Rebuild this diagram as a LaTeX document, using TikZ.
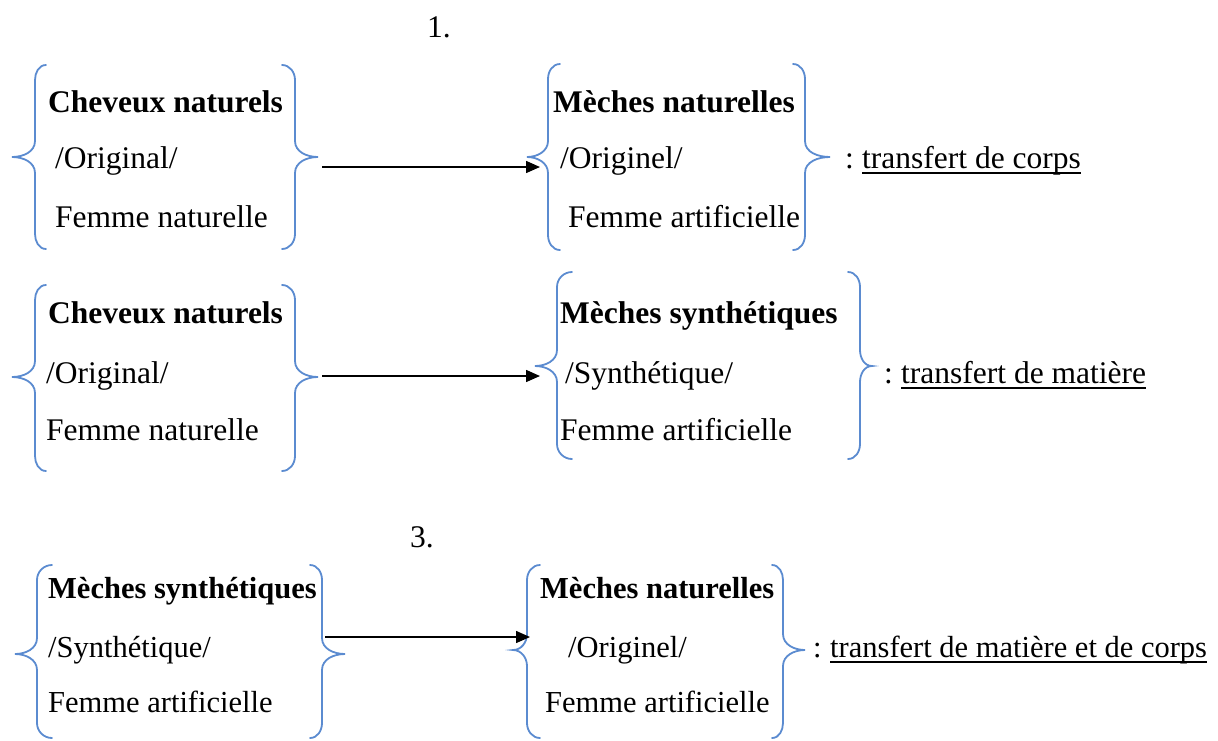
\documentclass[tikz,border=0pt]{standalone}
\usepackage{fontspec}
\setmainfont{Liberation Serif}
\usetikzlibrary{arrows.meta}
\definecolor{bracecol}{RGB}{91,139,208}

% left curly brace: arm x, spine x, tip x, top y, tip y, bottom y
\newcommand{\curlleft}[6]{%
  \draw[bracepath] (#1,#4) to[out=180,in=90] (#2,#4+15) -- (#2,#5-16)
    to[out=-90,in=0] (#3,#5) to[out=0,in=90] (#2,#5+16) -- (#2,#6-15)
    to[out=-90,in=180] (#1,#6);}
% right curly brace: arm x, spine x, tip x, top y, tip y, bottom y
\newcommand{\curlright}[6]{%
  \draw[bracepath] (#1,#4) to[out=0,in=90] (#2,#4+15) -- (#2,#5-16)
    to[out=-90,in=180] (#3,#5) to[out=180,in=90] (#2,#5+16) -- (#2,#6-15)
    to[out=-90,in=0] (#1,#6);}

\begin{document}
\begin{tikzpicture}[x=1pt,y=-1pt,
  bracepath/.style={draw=bracecol,line width=1.8pt,line cap=round},
  txt/.style={inner sep=0pt,anchor=base west,font=\fontsize{31.5}{36}\selectfont},
  head/.style={txt,font=\fontsize{31.5}{36}\selectfont\bfseries},
  txts/.style={inner sep=0pt,anchor=base west,font=\fontsize{30.5}{36}\selectfont},
  heads/.style={txts,font=\fontsize{30.5}{36}\selectfont\bfseries},
  conn/.style={draw=black,line width=1.5pt,-{Triangle[length=14pt,width=12pt]}},
  ul/.style={line width=1.3pt}]
\useasboundingbox (0,0) rectangle (1218,740);

% numbering
\node[txt] (n1) at (427,37) {1.};
\node[txt] (n3) at (410,547) {3.};

% ---------- row 1 ----------
\curlleft{46}{35}{12}{65}{157}{249}
\curlright{282}{295}{318}{65}{157}{249}
\node[head] (a1) at (48,112) {Cheveux naturels};
\node[txt]  (a2) at (55,168) {/Original/};
\node[txt]  (a3) at (55,227) {Femme naturelle};

\curlleft{560}{548}{527}{64}{157}{250}
\curlright{793}{805}{830}{64}{157}{250}
\node[head] (b1) at (553,112) {Mèches naturelles};
\node[txt]  (b2) at (560,168) {/Originel/};
\node[txt]  (b3) at (568,227) {Femme artificielle};

\node[txt] (c0) at (845,168) {:};
\node[txt] (c1) at (862,168) {transfert de corps};
\draw[ul] ([yshift=-5pt]c1.base west) -- ([yshift=-5pt]c1.base east);

\coordinate (s1) at (322,167);
\coordinate (e1) at (540,167);
\draw[conn] (s1) -- (e1);

% ---------- row 2 ----------
\curlleft{46}{35}{12}{285}{377}{471}
\curlright{282}{295}{318}{285}{377}{471}
\node[head] (d1) at (48,323) {Cheveux naturels};
\node[txt]  (d2) at (46,383) {/Original/};
\node[txt]  (d3) at (46,440) {Femme naturelle};

\curlleft{572}{557}{535}{272}{366}{459}
\curlright{848}{860}{872}{272}{366}{459}
\node[head] (f1) at (560,323) {Mèches synthétiques};
\node[txt]  (f2) at (565,383) {/Synthétique/};
\node[txt]  (f3) at (560,440) {Femme artificielle};

\node[txt] (g0) at (884,383) {:};
\node[txt] (g1) at (901,383) {transfert de matière};
\draw[ul] ([yshift=-5pt]g1.base west) -- ([yshift=-5pt]g1.base east);

\coordinate (s2) at (322,376);
\coordinate (e2) at (540,376);
\draw[conn] (s2) -- (e2);

% ---------- row 3 ----------
\curlleft{52}{37}{15}{565}{654}{738}
\curlright{310}{322}{345}{565}{654}{738}
\node[heads] (h1) at (48,598) {Mèches synthétiques};
\node[txts]  (h2) at (48,657) {/Synthétique/};
\node[txts]  (h3) at (48,712) {Femme artificielle};

\curlleft{540}{527}{513}{565}{650}{738}
\curlright{772}{783}{805}{565}{650}{738}
\node[heads] (k1) at (540,598) {Mèches naturelles};
\node[txts]  (k2) at (568,657) {/Originel/};
\node[txts]  (k3) at (545,712) {Femme artificielle};

\node[txts] (m0) at (813,657) {:};
\node[txts] (m1) at (830,657) {transfert de matière et de corps};
\draw[ul] ([yshift=-5pt]m1.base west) -- ([yshift=-5pt]m1.base east);

\coordinate (s3) at (325,637);
\coordinate (e3) at (530,637);
\draw[conn] (s3) -- (e3);
\end{tikzpicture}
\end{document}
